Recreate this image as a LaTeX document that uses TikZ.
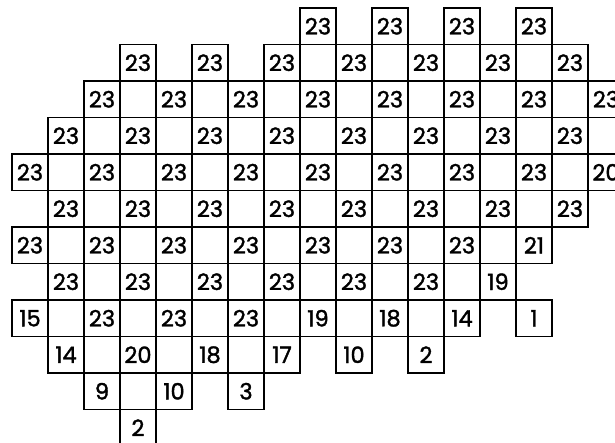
\documentclass[tikz,border=0pt]{standalone}
\usepackage{fontspec}
\newfontfamily\cellfont{Poppins}[FakeBold=1.6]
\begin{document}
\begin{tikzpicture}[x=1pt,y=1pt,
  cellbox/.style={draw=black, line width=1.3pt, minimum width=36pt, minimum height=36.5pt,
    inner sep=0pt, font=\cellfont\fontsize{22.5}{22.5}\selectfont}]
\useasboundingbox (0,0) rectangle (615,443);
\foreach \c/\r/\t in {
 8/0/23,10/0/23,12/0/23,14/0/23,
 3/1/23,5/1/23,7/1/23,8/1/{},9/1/23,10/1/{},11/1/23,12/1/{},13/1/23,14/1/{},15/1/23,
 2/2/23,3/2/{},4/2/23,5/2/{},6/2/23,7/2/{},8/2/23,9/2/{},10/2/23,11/2/{},12/2/23,13/2/{},14/2/23,15/2/{},16/2/23,
 1/3/23,2/3/{},3/3/23,4/3/{},5/3/23,6/3/{},7/3/23,8/3/{},9/3/23,10/3/{},11/3/23,12/3/{},13/3/23,14/3/{},15/3/23,16/3/{},
 0/4/23,1/4/{},2/4/23,3/4/{},4/4/23,5/4/{},6/4/23,7/4/{},8/4/23,9/4/{},10/4/23,11/4/{},12/4/23,13/4/{},14/4/23,15/4/{},16/4/20,
 1/5/23,2/5/{},3/5/23,4/5/{},5/5/23,6/5/{},7/5/23,8/5/{},9/5/23,10/5/{},11/5/23,12/5/{},13/5/23,14/5/{},15/5/23,
 0/6/23,1/6/{},2/6/23,3/6/{},4/6/23,5/6/{},6/6/23,7/6/{},8/6/23,9/6/{},10/6/23,11/6/{},12/6/23,13/6/{},14/6/21,
 1/7/23,2/7/{},3/7/23,4/7/{},5/7/23,6/7/{},7/7/23,8/7/{},9/7/23,10/7/{},11/7/23,12/7/{},13/7/19,
 0/8/15,1/8/{},2/8/23,3/8/{},4/8/23,5/8/{},6/8/23,7/8/{},8/8/19,9/8/{},10/8/18,11/8/{},12/8/14,14/8/1,
 1/9/14,2/9/{},3/9/20,4/9/{},5/9/18,6/9/{},7/9/17,9/9/10,11/9/2,
 2/10/9,3/10/{},4/10/10,6/10/3,
 3/11/2}
{
  \node[cellbox] (cell-\c-\r) at ({30+36*\c},{443-26.25-36.5*\r}) {\t};
}
\end{tikzpicture}
\end{document}
